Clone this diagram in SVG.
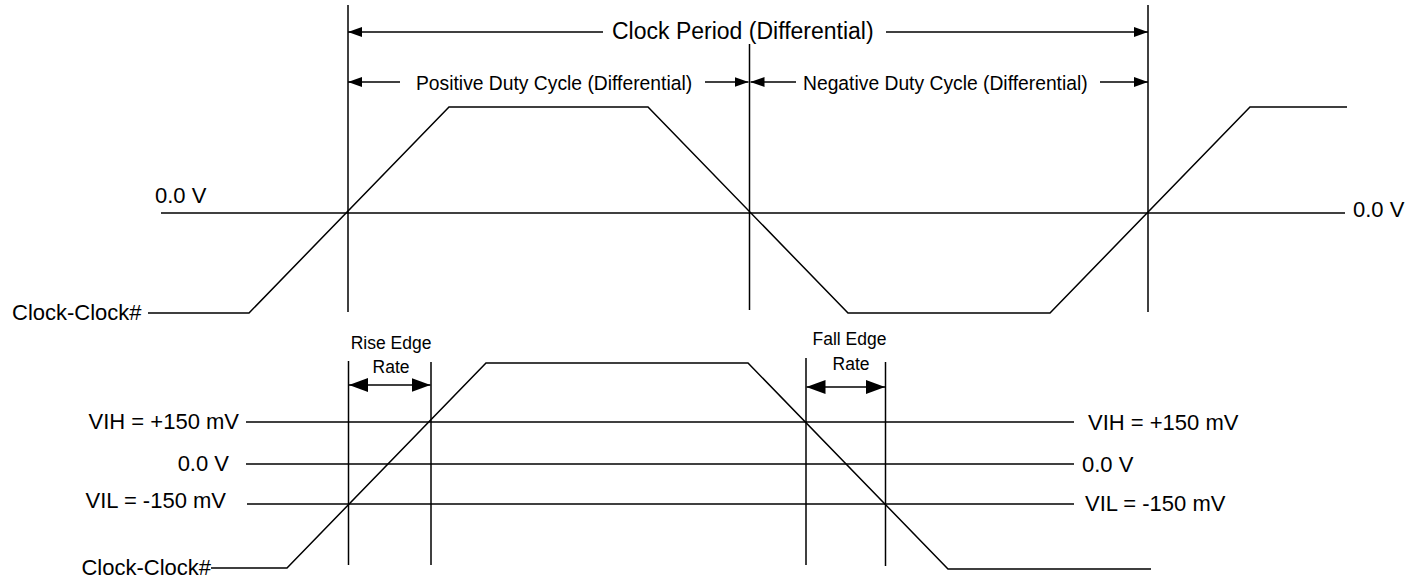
<svg xmlns="http://www.w3.org/2000/svg" width="1423" height="579" viewBox="0 0 1423 579">
<defs>
<style>
.ln{stroke:#000;stroke-width:1.5;fill:none}
.wv{stroke:#000;stroke-width:1.5;fill:none;stroke-linejoin:miter}
text{font-family:"Liberation Sans",Arial,sans-serif;fill:#000}
.t22{font-size:22px}
.t23{font-size:23px}
.t19{font-size:19.3px}
.t17{font-size:17.5px}
.arr{marker-end:url(#ah)}
.dbl{marker-start:url(#ahL);marker-end:url(#ahL)}
</style>
<marker id="ah" markerUnits="userSpaceOnUse" markerWidth="14" markerHeight="10" refX="14" refY="5" orient="auto" viewBox="0 0 14 10">
<path d="M0,0 L14,5 L0,10 z" fill="#000"/>
</marker>
<marker id="ahL" markerUnits="userSpaceOnUse" markerWidth="19" markerHeight="14" refX="19" refY="7" orient="auto-start-reverse" viewBox="0 0 19 14">
<path d="M0,0 L19,7 L0,14 z" fill="#000"/>
</marker>
</defs>
<rect width="1423" height="579" fill="#fff"/>

<g id="top-waveform">
<line class="ln" x1="161" y1="213" x2="1345" y2="213"/>
<polyline class="wv" points="148,313 249,313 449,107 648,107 848,313 1050,313 1250,107 1347,107"/>
<text class="t22" x="155" y="203">0.0 V</text>
<text class="t22" x="1353" y="217">0.0 V</text>
<text class="t22" x="12" y="320">Clock-Clock#</text>
</g>

<g id="top-guides">
<line class="ln" x1="348" y1="5" x2="348" y2="312"/>
<line class="ln" x1="749.5" y1="44" x2="749.5" y2="310"/>
<line class="ln" x1="1148" y1="5" x2="1148" y2="312"/>
</g>

<g id="bottom-waveform">
<line class="ln" x1="246" y1="422" x2="1074" y2="422"/>
<line class="ln" x1="246" y1="464" x2="1074" y2="464"/>
<line class="ln" x1="247" y1="504" x2="1074" y2="504"/>
<polyline class="wv" points="211,568 287,568 486,363 748,363 948,569 1151,569"/>
<text class="t22" x="239" y="429" text-anchor="end">VIH = +150 mV</text>
<text class="t22" x="229" y="471" text-anchor="end">0.0 V</text>
<text class="t22" x="226" y="508" text-anchor="end">VIL = -150 mV</text>
<text class="t22" x="211" y="575" text-anchor="end">Clock-Clock#</text>
<text class="t22" x="1088" y="430">VIH = +150 mV</text>
<text class="t22" x="1082" y="472">0.0 V</text>
<text class="t22" x="1085" y="511">VIL = -150 mV</text>
</g>

<g id="bottom-guides">
<line class="ln" x1="348.5" y1="361" x2="348.5" y2="565"/>
<line class="ln" x1="431" y1="362" x2="431" y2="565"/>
<line class="ln" x1="806" y1="358" x2="806" y2="565"/>
<line class="ln" x1="885.5" y1="362" x2="885.5" y2="566"/>
</g>

<g id="connectors">
<line class="ln arr" x1="603" y1="32" x2="348" y2="32"/>
<line class="ln arr" x1="886" y1="32" x2="1148" y2="32"/>
<line class="ln arr" x1="400" y1="82" x2="348" y2="82"/>
<line class="ln arr" x1="705" y1="82" x2="748.5" y2="82"/>
<line class="ln arr" x1="796" y1="82" x2="750.5" y2="82"/>
<line class="ln arr" x1="1100" y1="82" x2="1148" y2="82"/>
<line class="ln dbl" x1="349" y1="385" x2="430.5" y2="385"/>
<line class="ln dbl" x1="806.5" y1="387" x2="885" y2="387"/>
</g>

<g id="dimension-labels">
<text class="t23" x="612" y="39">Clock Period (Differential)</text>
<text class="t19" x="416" y="90">Positive Duty Cycle (Differential)</text>
<text class="t19" x="803" y="90">Negative Duty Cycle (Differential)</text>
<text class="t17" x="391" y="349" text-anchor="middle">Rise Edge</text>
<text class="t17" x="391" y="373" text-anchor="middle">Rate</text>
<text class="t17" x="849.5" y="345" text-anchor="middle">Fall Edge</text>
<text class="t17" x="851" y="370" text-anchor="middle">Rate</text>
</g>
</svg>
